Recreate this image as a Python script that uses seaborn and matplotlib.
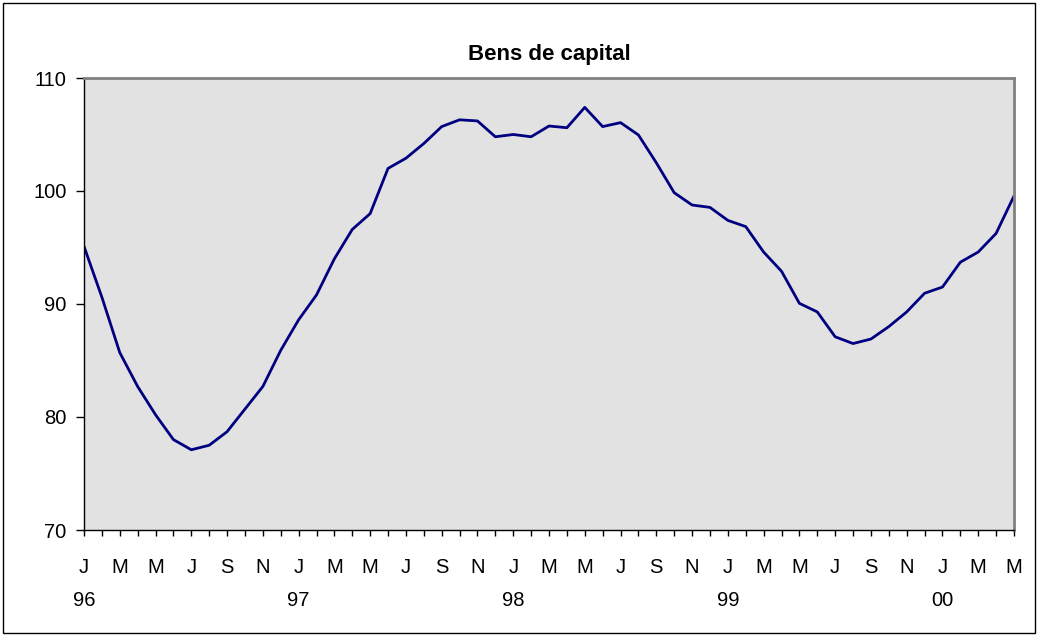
import numpy as np
import pandas as pd
import matplotlib
matplotlib.use("Agg")
import matplotlib.pyplot as plt
from matplotlib.patches import Rectangle
import seaborn as sns

# Monthly index values, Jan 1996 .. May 2000
values = [95.1, 90.6, 85.7, 82.7, 80.2, 78.0, 77.1, 77.5, 78.7, 80.7,
          82.7, 85.9, 88.6, 90.8, 94.0, 96.6, 98.0, 102.0, 102.9, 104.2,
          105.7, 106.3, 106.2, 104.8, 105.0, 104.8, 105.75, 105.6, 107.4, 105.7,
          106.05, 104.96, 102.5, 99.85, 98.76, 98.55, 97.4, 96.85, 94.6, 92.9,
          90.06, 89.3, 87.1, 86.5, 86.9, 88.0, 89.3, 90.95, 91.5, 93.7,
          94.6, 96.25, 99.56]
month_initials = ["J", "F", "M", "A", "M", "J", "J", "A", "S", "O", "N", "D"]
year_labels = ["96", "97", "98", "99", "00"]
y_ticks = [70, 80, 90, 100, 110]
title = "Bens de capital"

sns.set_theme(style="white")
plt.rcParams['font.family'] = ['Liberation Sans', 'DejaVu Sans']
plt.rcParams['text.color'] = 'black'
plt.rcParams['xtick.color'] = 'black'
plt.rcParams['ytick.color'] = 'black'
plt.rcParams['xtick.labelcolor'] = 'black'
plt.rcParams['ytick.labelcolor'] = 'black'

fig = plt.figure(figsize=(10.38, 6.35), dpi=100)
fig.patch.set_facecolor("white")
ax = fig.add_axes([84 / 1038, 1 - 530 / 635, 930 / 1038, 452 / 635])
ax.set_facecolor("#E2E2E2")

df = pd.DataFrame({"t": np.arange(len(values)), "v": values})
sns.lineplot(data=df, x="t", y="v", ax=ax, color="#000080", linewidth=2.0,
             solid_joinstyle="round", solid_capstyle="round")

ax.set_xlim(0, len(values) - 1)
ax.set_ylim(70, 110)

labels = []
for i in range(len(values)):
    if i % 2 == 0:
        lab = month_initials[i % 12]
        if i % 12 == 0:
            lab += "\n" + year_labels[i // 12]
        labels.append(lab)
    else:
        labels.append("")
ax.set_xticks(np.arange(len(values)))
ax.set_xticklabels(labels, fontsize=14.5, linespacing=1.9, color="black")
ax.set_yticks(y_ticks)
ax.set_yticklabels([str(v) for v in y_ticks], fontsize=14.5, color="black")
ax.set_xlabel("")
ax.set_ylabel("")

ax.tick_params(axis="x", bottom=True, direction="out", length=4, width=1,
               color="black", pad=16.5)
ax.tick_params(axis="y", left=True, direction="out", length=5.5, width=1,
               color="black", pad=7)

for s in ["left", "bottom"]:
    ax.spines[s].set_color("black")
    ax.spines[s].set_linewidth(1.0)
for s in ["top", "right"]:
    ax.spines[s].set_color("#808080")
    ax.spines[s].set_linewidth(2.0)
    ax.spines[s].set_visible(True)

ax.set_title(title, fontsize=16, fontweight="bold", pad=13, color="black")

fig.patches.append(Rectangle((3 / 1038, 2 / 635), 1032 / 1038, 630 / 635,
                             transform=fig.transFigure, fill=False,
                             edgecolor="black", linewidth=1.0))

fig.savefig("out.png", dpi=100, facecolor="white")
